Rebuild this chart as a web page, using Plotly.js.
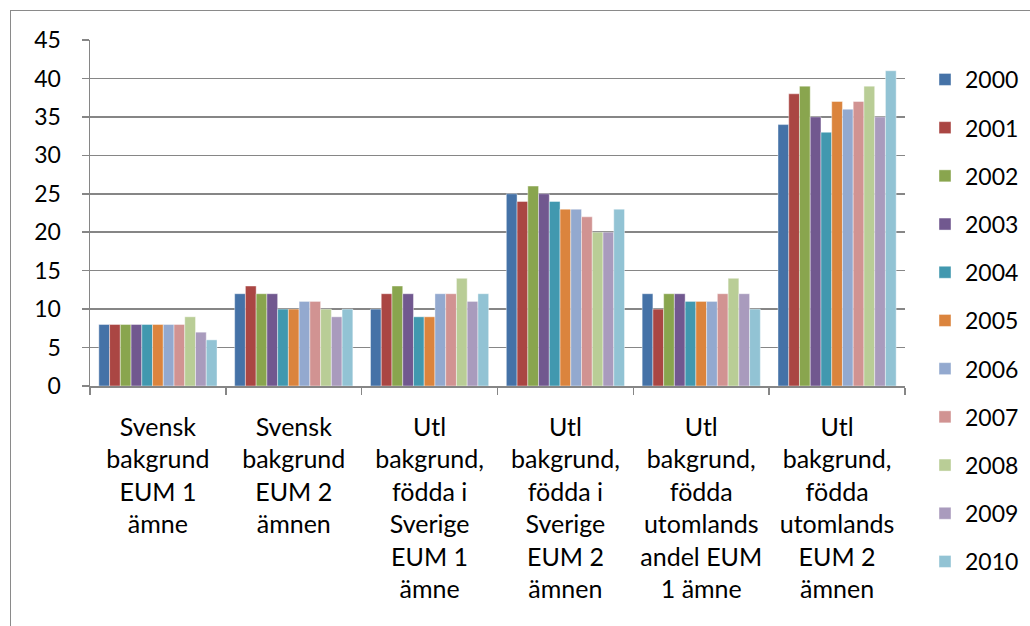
<!DOCTYPE html>
<html>
<head>
<meta charset="utf-8">
<script src="https://cdn.plot.ly/plotly-3.0.1.min.js"></script>
<style>
html,body{margin:0;padding:0;background:#fff;overflow:hidden;}
#frame{position:absolute;left:10px;top:10px;width:1030px;height:626px;border-left:1.5px solid #8a8a8a;border-top:1.5px solid #8a8a8a;}
#chart{position:absolute;left:0;top:0;width:1030px;height:626px;}
</style>
</head>
<body>
<div id="frame"></div>
<div id="chart"></div>
<script>
const categories = [
  "Svensk<br>bakgrund<br>EUM 1<br>ämne",
  "Svensk<br>bakgrund<br>EUM 2<br>ämnen",
  "Utl<br>bakgrund,<br>födda i<br>Sverige<br>EUM 1<br>ämne",
  "Utl<br>bakgrund,<br>födda i<br>Sverige<br>EUM 2<br>ämnen",
  "Utl<br>bakgrund,<br>födda<br>utomlands<br>andel EUM<br>1 ämne",
  "Utl<br>bakgrund,<br>födda<br>utomlands<br>EUM 2<br>ämnen"
];
const years = ["2000","2001","2002","2003","2004","2005","2006","2007","2008","2009","2010"];
const v2000 = [8, 12, 10, 25, 12, 34];
const v2001 = [8, 13, 12, 24, 10, 38];
const v2002 = [8, 12, 13, 26, 12, 39];
const v2003 = [8, 12, 12, 25, 12, 35];
const v2004 = [8, 10, 9, 24, 11, 33];
const v2005 = [8, 10, 9, 23, 11, 37];
const v2006 = [8, 11, 12, 23, 11, 36];
const v2007 = [8, 11, 12, 22, 12, 37];
const v2008 = [9, 10, 14, 20, 14, 39];
const v2009 = [7, 9, 11, 20, 12, 35];
const v2010 = [6, 10, 12, 23, 10, 41];
const seriesValues = [v2000, v2001, v2002, v2003, v2004, v2005, v2006, v2007, v2008, v2009, v2010];
const colors = ["#4572A7","#AA4643","#89A54E","#71588F","#4198AF","#DB843D","#93A9CF","#D19392","#B9CD96","#A99BBD","#92C3D4"];

const FONT = "Lato, 'Open Sans', sans-serif";
const traces = years.map((y, i) => ({
  type: "bar",
  name: y,
  x: categories,
  y: seriesValues[i],
  legendgroup: "g" + i,
  marker: {color: colors[i], line: {color: "rgba(255,255,255,0.7)", width: 0.6}},
  hoverinfo: "name+y"
}));

const layout = {
  width: 1030,
  height: 626,
  margin: {l: 90, r: 125, t: 40, b: 240},
  paper_bgcolor: "rgba(0,0,0,0)",
  plot_bgcolor: "rgba(0,0,0,0)",
  barmode: "group",
  bargap: 0.13,
  bargroupgap: 0,
  font: {family: FONT, color: "#000"},
  xaxis: {
    type: "category",
    tickson: "boundaries",
    ticks: "outside",
    ticklen: 7,
    tickcolor: "#868686",
    tickwidth: 1.5,
    showline: true,
    linecolor: "#868686",
    linewidth: 1.5,
    showgrid: false,
    tickangle: 0,
    tickfont: {family: FONT, size: 25, color: "#000"},
    ticklabelstandoff: 18,
    automargin: false
  },
  yaxis: {
    range: [0, 45],
    dtick: 5,
    tick0: 0,
    ticks: "outside",
    ticklen: 7,
    tickcolor: "#868686",
    tickwidth: 1.5,
    showline: true,
    linecolor: "#868686",
    linewidth: 1.5,
    showgrid: true,
    gridcolor: "#868686",
    gridwidth: 1.5,
    zeroline: false,
    tickfont: {family: FONT, size: 23, color: "#000"},
    ticklabelstandoff: 16,
    automargin: false
  },
  showlegend: true,
  legend: {
    xref: "container",
    yref: "container",
    x: 925 / 1030,
    xanchor: "left",
    y: 1 - 58 / 626,
    yanchor: "top",
    maxheight: 1,
    traceorder: "grouped",
    tracegroupgap: 15.3,
    font: {family: FONT, size: 23, color: "#000"},
    bgcolor: "rgba(0,0,0,0)"
  }
};

Plotly.newPlot("chart", traces, layout, {displayModeBar: false, staticPlot: true});
</script>
</body>
</html>
